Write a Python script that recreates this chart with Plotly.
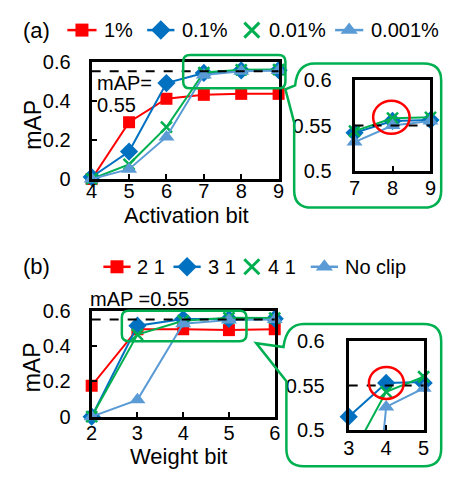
import plotly.graph_objects as go

# ---------------- data ----------------
act_bits = [4, 5, 6, 7, 8, 9]
act_1pct = [0.0, 0.29, 0.41, 0.43, 0.435, 0.435]
act_01pct = [0.01, 0.14, 0.49, 0.542, 0.555, 0.556]
act_001pct = [0.0, 0.075, 0.265, 0.544, 0.558, 0.559]
act_0001pct = [0.0, 0.05, 0.215, 0.532, 0.55, 0.555]
act_names = ["1%", "0.1%", "0.01%", "0.001%"]

w_bits = [2, 3, 4, 5, 6]
w_21 = [0.175, 0.495, 0.495, 0.49, 0.495]
w_31 = [0.0, 0.515, 0.553, 0.553, 0.555]
w_41 = [0.0, 0.465, 0.543, 0.56, 0.558]
w_noclip = [0.0, 0.095, 0.526, 0.547, 0.55]
w_names = ["2 1", "3 1", "4 1", "No clip"]

target_map = 0.55

main_yticks = [0, 0.2, 0.4, 0.6]
main_yticklabels = ["0", "0.2", "0.4", "0.6"]
inset_yticks = [0.5, 0.55, 0.6]
inset_yticklabels = ["0.5", "0.55", "0.6"]

# ---------------- styles ----------------
RED = "#FF0000"
BLUE = "#0070C0"
GREEN = "#00B050"
LBLUE = "#5B9BD5"
FONT = "Liberation Sans, Arial, sans-serif"
FS = 20

styles = [
    dict(color=RED, symbol="square", size=12),
    dict(color=BLUE, symbol="diamond", size=14),
    dict(color=GREEN, symbol="x-thin", size=11),
    dict(color=LBLUE, symbol="triangle-up", size=14),
]

W, H = 454, 483


def px(x):
    return x / W


def py(y):
    return 1 - y / H


fig = go.Figure()


def add_series(xs, ys, name, st, xa, ya, yrange=None):
    fig.add_trace(go.Scatter(
        x=xs, y=ys, mode="lines", name=name, showlegend=False,
        line=dict(color=st["color"], width=2), xaxis=xa, yaxis=ya,
        hoverinfo="skip"))
    if yrange is None:
        mx, my = xs, ys
    else:
        mx = [x for x, y in zip(xs, ys) if yrange[0] <= y <= yrange[1]]
        my = [y for y in ys if yrange[0] <= y <= yrange[1]]
    mk = dict(color=st["color"], symbol=st["symbol"], size=st["size"])
    if st["symbol"] == "x-thin":
        mk["line"] = dict(color=st["color"], width=2.5)
    fig.add_trace(go.Scatter(
        x=mx, y=my, mode="markers", name=name, showlegend=False,
        marker=mk, cliponaxis=False, xaxis=xa, yaxis=ya))


act_series = [act_1pct, act_01pct, act_001pct, act_0001pct]
w_series = [w_21, w_31, w_41, w_noclip]

for s, n, st in zip(act_series, act_names, styles):
    add_series(act_bits, s, n, st, "x", "y")
for s, n, st in zip(act_series, act_names, styles):
    add_series(act_bits, s, n, st, "x2", "y2", yrange=(0.5, 0.6))
for s, n, st in zip(w_series, w_names, styles):
    add_series(w_bits, s, n, st, "x3", "y3")
for s, n, st in zip(w_series, w_names, styles):
    add_series(w_bits, s, n, st, "x4", "y4", yrange=(0.5, 0.6))

# legend markers drawn on an overlay axis in pixel units
leg_a = [(63, 93), (145, 173), (243, 262), (338, 367)]
leg_b = [(100, 128), (172, 200), (243, 262), (313, 341)]
for row_y, items in ((20, leg_a), (268, leg_b)):
    for (x0, x1), st in zip(items, styles):
        if st["symbol"] != "x-thin":
            fig.add_trace(go.Scatter(
                x=[x0, x1], y=[row_y, row_y], mode="lines", showlegend=False,
                line=dict(color=st["color"], width=2.5), xaxis="x5", yaxis="y5",
                hoverinfo="skip"))
        mk = dict(color=st["color"], symbol=st["symbol"], size=st["size"] + 1)
        if st["symbol"] == "x-thin":
            mk["line"] = dict(color=st["color"], width=3)
            mk["size"] = 15
        fig.add_trace(go.Scatter(
            x=[(x0 + x1) / 2], y=[row_y], mode="markers", showlegend=False,
            marker=mk, xaxis="x5", yaxis="y5", cliponaxis=False,
            hoverinfo="skip"))

axis_common = dict(
    showline=True, mirror=True, linecolor="black", linewidth=3,
    ticklen=5, tickwidth=2, tickcolor="black",
    showgrid=False, zeroline=False,
    tickfont=dict(family=FONT, size=FS, color="black"),
)

fig.update_layout(
    width=W, height=H,
    margin=dict(l=0, r=0, t=0, b=0),
    paper_bgcolor="white", plot_bgcolor="rgba(0,0,0,0)",
    showlegend=False,
    font=dict(family=FONT, size=FS, color="black"),
    # (a) main
    xaxis=dict(domain=[px(88), px(280)], range=[4, 9], anchor="y",
               tickvals=act_bits, ticks="inside", ticklabelstandoff=-8, **axis_common),
    yaxis=dict(domain=[py(176), py(53)], range=[0, 0.6], anchor="x",
               tickvals=main_yticks, ticktext=main_yticklabels, ticks="inside",
               ticklabelstandoff=14, **axis_common),
    # (a) inset
    xaxis2=dict(domain=[px(358), px(436)], range=[7, 9], anchor="y2",
                tickvals=[7, 8, 9], ticks="inside", ticklabelstandoff=-3, **axis_common),
    yaxis2=dict(domain=[py(168), py(72)], range=[0.5, 0.6], anchor="x2",
                tickvals=inset_yticks, ticktext=inset_yticklabels,
                ticks="", ticklabelstandoff=16, **axis_common),
    # (b) main
    xaxis3=dict(domain=[px(88), px(276)], range=[2, 6], anchor="y3",
                tickvals=w_bits, ticks="inside", ticklabelstandoff=-4, **axis_common),
    yaxis3=dict(domain=[py(425), py(314)], range=[0, 0.6], anchor="x3",
                tickvals=main_yticks, ticktext=main_yticklabels, ticks="inside",
                ticklabelstandoff=14, **axis_common),
    # (b) inset
    xaxis4=dict(domain=[px(352), px(429)], range=[3, 5], anchor="y4",
                tickvals=[3, 4, 5], ticks="inside", ticklabelstandoff=-2, **axis_common),
    yaxis4=dict(domain=[py(439), py(346)], range=[0.5, 0.6], anchor="x4",
                tickvals=inset_yticks, ticktext=inset_yticklabels,
                ticks="", ticklabelstandoff=17, **axis_common),
    # overlay in pixel units
    xaxis5=dict(domain=[0, 1], range=[0, W], anchor="y5", visible=False,
                fixedrange=True),
    yaxis5=dict(domain=[0, 1], range=[H, 0], anchor="x5", visible=False,
                fixedrange=True),
)

shapes = []
for xr, yr in (("x", "y"), ("x2", "y2"), ("x3", "y3"), ("x4", "y4")):
    shapes.append(dict(type="line", xref=f"{xr} domain", yref=yr, x0=0, x1=1,
                       y0=target_map, y1=target_map,
                       line=dict(color="black", width=2, dash="dash"), layer="above"))

shapes.append(dict(type="circle", xref="x2", yref="y2", x0=7.49, x1=8.45,
                   y0=0.541, y1=0.577, line=dict(color=RED, width=2.5), layer="above"))
shapes.append(dict(type="circle", xref="x4", yref="y4", x0=3.54, x1=4.47,
                   y0=0.535, y1=0.571, line=dict(color=RED, width=2.5), layer="above"))


def rrect(x0, y0, x1, y1, r):
    return (f"M{x0+r},{y0} L{x1-r},{y0} Q{x1},{y0} {x1},{y0+r} "
            f"L{x1},{y1-r} Q{x1},{y1} {x1-r},{y1} L{x0+r},{y1} "
            f"Q{x0},{y1} {x0},{y1-r} L{x0},{y0+r} Q{x0},{y0} {x0+r},{y0} Z")


green_line = dict(color=GREEN, width=2.5)
shapes.append(dict(type="path", xref="x5", yref="y5", path=rrect(182, 46, 287, 81, 7),
                   line=green_line, layer="above"))
shapes.append(dict(type="path", xref="x5", yref="y5", path=rrect(119, 314, 247, 346, 7),
                   line=green_line, layer="above"))

bubble_a = ("M296,117 L287,82 L297,78 Q299,55 317,55 L429,55 Q447,55 447,73 "
            "L447,188 Q447,206 429,206 L314,206 Q296,206 296,188 Z")
bubble_b = ("M288,388 L257,348 L285,352 Q288,328 306,328 L429,328 Q447,328 447,346 "
            "L447,459 Q447,477 429,477 L306,477 Q288,477 288,459 Z")
shapes.append(dict(type="path", xref="x5", yref="y5", path=bubble_a, line=green_line, layer="above"))
shapes.append(dict(type="path", xref="x5", yref="y5", path=bubble_b, line=green_line, layer="above"))
fig.update_layout(shapes=shapes)

ann = []


def txt(x, y, t, xanchor="left", size=FS, angle=0):
    ann.append(dict(xref="x5", yref="y5", x=x, y=y, text=t, showarrow=False,
                    xanchor=xanchor, yanchor="middle", textangle=angle,
                    font=dict(family=FONT, size=size, color="black")))


txt(15, 20, "(a)", size=22)
for (x0, x1), n in zip(leg_a, act_names):
    txt(x1 + 6, 20, n)
txt(15, 268, "(b)", size=22)
for (x0, x1), n in zip(leg_b, w_names):
    txt(x1 + 5, 268, n)

txt(91, 75, "mAP=")
txt(91, 99, "0.55")
txt(84, 302, "mAP =0.55")
txt(185, 214, "Activation bit", xanchor="center", size=22)
txt(177, 467, "Weight bit", xanchor="center", size=22)
txt(27, 119, "mAP", xanchor="center", size=23, angle=-90)
txt(27, 373, "mAP", xanchor="center", size=23, angle=-90)
fig.update_layout(annotations=ann)

fig.write_html("out.html",
               config={"displayModeBar": False},
               post_script="document.body.style.margin='0';document.body.style.overflow='hidden';")
